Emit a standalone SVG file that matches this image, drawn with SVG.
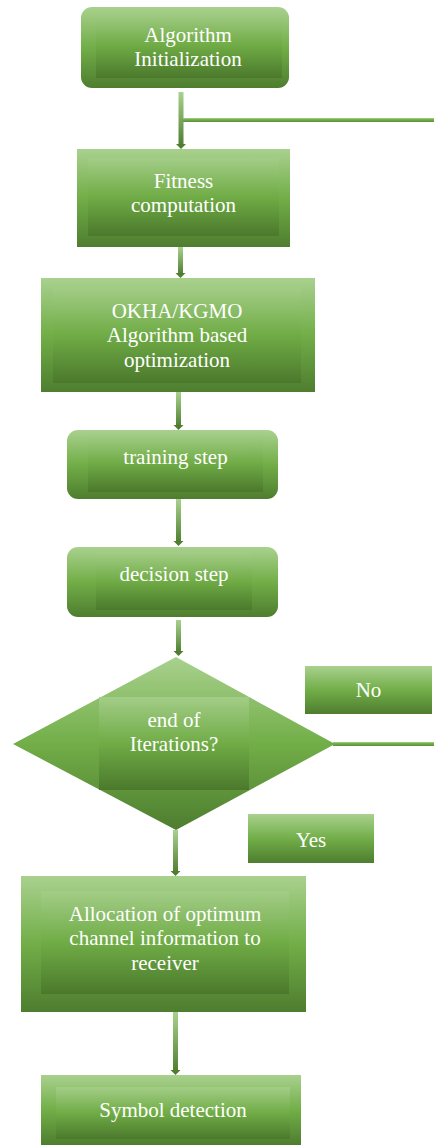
<svg xmlns="http://www.w3.org/2000/svg" width="434" height="1145" viewBox="0 0 434 1145">
<defs>
<linearGradient id="g" x1="0" y1="0" x2="0" y2="1">
<stop offset="0" stop-color="#a9d18e"/>
<stop offset="0.5" stop-color="#72ae48"/>
<stop offset="1" stop-color="#4e7d2f"/>
</linearGradient>
<linearGradient id="gi" x1="0" y1="0" x2="0" y2="1">
<stop offset="0" stop-color="#a3cd87"/>
<stop offset="0.5" stop-color="#70ac46"/>
<stop offset="1" stop-color="#4b792c"/>
</linearGradient>
<linearGradient id="gl" x1="0" y1="0" x2="0" y2="1">
<stop offset="0" stop-color="#a9d18e"/>
<stop offset="1" stop-color="#4f8031"/>
</linearGradient>
<linearGradient id="gh" x1="0" y1="0" x2="0" y2="1">
<stop offset="0" stop-color="#a9d18e"/>
<stop offset="0.4" stop-color="#72ae48"/>
<stop offset="1" stop-color="#5c9239"/>
</linearGradient>
<polygon id="ah" points="-5,0 5,0 0,5" fill="#4e7d2f"/>
</defs>
<style>
.o{fill:url(#g)}
.i{fill:url(#gi)}
.b{fill:url(#gl)}
.h{fill:url(#gh)}
.t{font-family:'Liberation Serif','DejaVu Serif',serif;font-size:21px;fill:#ffffff;text-anchor:middle}
</style>

<g id="connectors">
<rect class="b" x="178.5" y="92" width="5" height="53"/>
<use href="#ah" x="181" y="144"/>
<rect class="h" x="183" y="118" width="251" height="4"/>
<rect class="b" x="178" y="247" width="5" height="27"/>
<use href="#ah" x="180.5" y="273"/>
<rect class="b" x="176" y="392" width="5" height="34"/>
<use href="#ah" x="178.5" y="425"/>
<rect class="b" x="176" y="499" width="5" height="43"/>
<use href="#ah" x="178.5" y="541"/>
<rect class="b" x="176" y="620" width="5" height="32"/>
<use href="#ah" x="178.5" y="651"/>
<rect class="h" x="333" y="742" width="101" height="4"/>
<rect class="b" x="173" y="830" width="5" height="42"/>
<use href="#ah" x="175.5" y="871"/>
<rect class="b" x="173" y="1012" width="5" height="59"/>
<use href="#ah" x="175.5" y="1070"/>
</g>

<g id="n-init">
<rect class="o" x="81" y="7" width="208" height="81" rx="11"/>
<rect class="i" x="96" y="12" width="186" height="66"/>
<text class="t" font-family="Liberation Serif, serif" x="188" y="42">Algorithm</text>
<text class="t" font-family="Liberation Serif, serif" x="188" y="66">Initialization</text>
</g>

<g id="n-fitness">
<rect class="o" x="77" y="149" width="213" height="98"/>
<rect class="i" x="88" y="158" width="191" height="78"/>
<text class="t" x="183.5" y="188">Fitness</text>
<text class="t" x="183.5" y="212">computation</text>
</g>

<g id="n-okha">
<rect class="o" x="41" y="278" width="274" height="114"/>
<rect class="i" x="53" y="287" width="248" height="96"/>
<text class="t" x="177" y="318">OKHA/KGMO</text>
<text class="t" x="177" y="342">Algorithm based</text>
<text class="t" x="177" y="367">optimization</text>
</g>

<g id="n-training">
<rect class="o" x="67" y="430" width="211" height="69" rx="11"/>
<rect class="i" x="88" y="434" width="175" height="58"/>
<text class="t" x="175.5" y="464">training step</text>
</g>

<g id="n-decision">
<rect class="o" x="67" y="547" width="211" height="70" rx="11"/>
<rect class="i" x="96" y="552" width="156" height="58"/>
<text class="t" x="174" y="581">decision step</text>
</g>

<g id="n-end">
<polygon class="o" points="176,657 335,744 176,830 13,744"/>
<rect class="i" x="99" y="697" width="150" height="93"/>
<text class="t" x="174" y="727">end of</text>
<text class="t" x="174" y="751">Iterations?</text>
</g>

<g id="n-no">
<rect class="o" x="305" y="666" width="127" height="48"/>
<text class="t" x="368.5" y="697">No</text>
</g>

<g id="n-yes">
<rect class="o" x="248" y="814" width="126" height="49"/>
<text class="t" x="311" y="847">Yes</text>
</g>

<g id="n-alloc">
<rect class="o" x="21" y="876" width="285" height="136"/>
<rect class="i" x="41" y="891" width="248" height="103"/>
<text class="t" x="165" y="921">Allocation of optimum</text>
<text class="t" x="165" y="945">channel information to</text>
<text class="t" x="165" y="970">receiver</text>
</g>

<g id="n-symbol">
<rect class="o" x="41" y="1075" width="260" height="70"/>
<rect class="i" x="56" y="1087" width="234" height="52"/>
<text class="t" x="173" y="1117">Symbol detection</text>
</g>
</svg>
